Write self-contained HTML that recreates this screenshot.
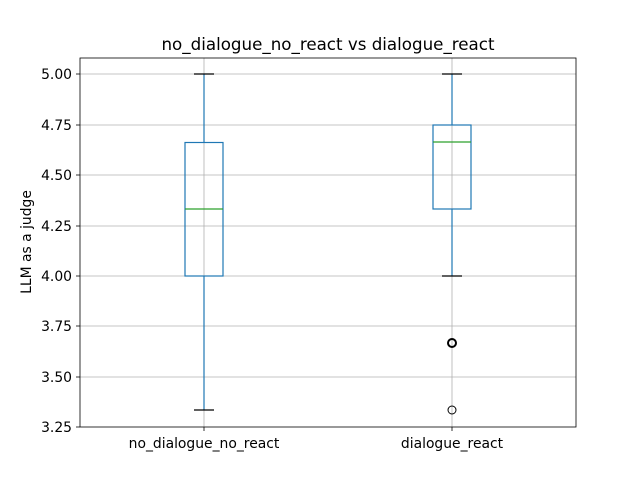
<!DOCTYPE html>
<html><head><style>body{margin:0;background:#fff}</style></head><body>
<svg width="640" height="480" xmlns="http://www.w3.org/2000/svg" font-family="'DejaVu Sans', 'Liberation Sans', sans-serif">
<rect width="640" height="480" fill="#fff"/>
<g stroke="#b0b0b0" stroke-width="0.8">
<line x1="80" x2="576" y1="74" y2="74"/><line x1="80" x2="576" y1="125" y2="125"/>
<line x1="80" x2="576" y1="175" y2="175"/><line x1="80" x2="576" y1="226" y2="226"/>
<line x1="80" x2="576" y1="276" y2="276"/><line x1="80" x2="576" y1="326" y2="326"/>
<line x1="80" x2="576" y1="377" y2="377"/>
<line x1="204" x2="204" y1="58" y2="427"/><line x1="452" x2="452" y1="58" y2="427"/>
</g>
<g stroke="#1f77b4" stroke-width="1.2" fill="none">
<rect x="185" y="142.5" width="38" height="133.5"/>
<line x1="204" x2="204" y1="142.5" y2="74"/><line x1="204" x2="204" y1="276" y2="410"/>
<rect x="433" y="125" width="38" height="84"/>
<line x1="452" x2="452" y1="125" y2="74"/><line x1="452" x2="452" y1="209" y2="276"/>
</g>
<g stroke="#000" stroke-width="1.2">
<line x1="194" x2="214" y1="74" y2="74"/><line x1="194" x2="214" y1="410" y2="410"/>
<line x1="442" x2="462" y1="74" y2="74"/><line x1="442" x2="462" y1="276" y2="276"/>
</g>
<g stroke="#2ca02c" stroke-width="1.2">
<line x1="185" x2="223" y1="209" y2="209"/><line x1="433" x2="471" y1="142" y2="142"/>
</g>
<g stroke="#000" fill="none"><circle cx="452" cy="343" r="4" stroke-width="2"/><circle cx="452" cy="410" r="4"/></g>
<rect x="80" y="58" width="496" height="369" fill="none" stroke="#000" stroke-width="0.8"/>
<g stroke="#000" stroke-width="0.8">
<line x1="76" x2="80" y1="74" y2="74"/><line x1="76" x2="80" y1="125" y2="125"/>
<line x1="76" x2="80" y1="175" y2="175"/><line x1="76" x2="80" y1="226" y2="226"/>
<line x1="76" x2="80" y1="276" y2="276"/><line x1="76" x2="80" y1="326" y2="326"/>
<line x1="76" x2="80" y1="377" y2="377"/><line x1="76" x2="80" y1="427" y2="427"/>
<line x1="204" x2="204" y1="427" y2="431"/><line x1="452" x2="452" y1="427" y2="431"/>
</g>
<g font-size="13.9" text-anchor="end" fill="#000">
<text x="72" y="79">5.00</text><text x="72" y="130">4.75</text><text x="72" y="180">4.50</text>
<text x="72" y="231">4.25</text><text x="72" y="281">4.00</text><text x="72" y="331">3.75</text>
<text x="72" y="382">3.50</text><text x="72" y="432">3.25</text>
</g>
<g font-size="13.9" text-anchor="middle">
<text x="204" y="448">no_dialogue_no_react</text><text x="452" y="448">dialogue_react</text>
<text x="31" y="242" transform="rotate(-90 31 242)">LLM as a judge</text>
</g>
<text x="328" y="50" font-size="16.7" text-anchor="middle">no_dialogue_no_react vs dialogue_react</text>
</svg>
</body></html>
